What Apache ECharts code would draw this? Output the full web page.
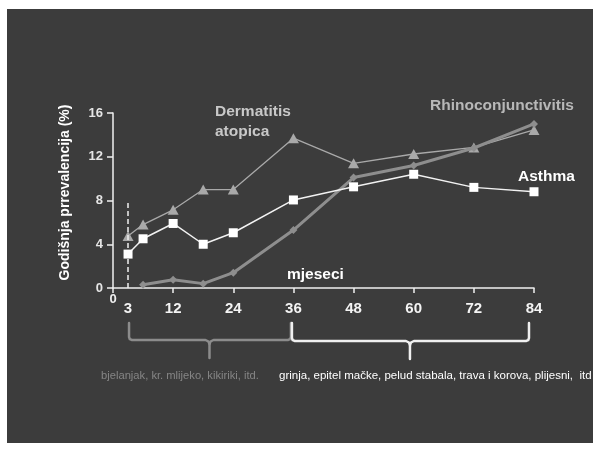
<!DOCTYPE html>
<html>
<head>
<meta charset="utf-8">
<script src="https://cdn.jsdelivr.net/npm/echarts@6/dist/echarts.min.js"></script>
<style>
  html, body { margin: 0; padding: 0; background: #ffffff; }
  #chart { width: 593px; height: 451px; }
</style>
</head>
<body>
<div id="chart"></div>
<script>
// Age in months at each survey point
const months = [3, 6, 12, 18, 24, 36, 48, 60, 72, 84];
const rhinoMonths = [6, 12, 18, 24, 36, 48, 60, 72, 84];

// Annual prevalence (%) per condition
const asthma = [3.1, 4.5, 5.9, 4.0, 5.05, 8.05, 9.25, 10.4, 9.2, 8.8];
const dermatitis = [4.75, 5.8, 7.15, 9.0, 9.0, 13.7, 11.4, 12.25, 12.85, 14.45];
const rhino = [0.3, 0.75, 0.4, 1.4, 5.3, 10.1, 11.2, 12.8, 15.0];

// Axis tick labels
const xTickLabels = [3, 12, 24, 36, 48, 60, 72, 84];
const yTicks = [0, 4, 8, 12, 16];

const pairs = (xs, ys) => xs.map((x, i) => [x, ys[i]]);

const FONT = '"Liberation Sans", Arial, sans-serif';
const chart = echarts.init(document.getElementById('chart'), null, { renderer: 'canvas' });

chart.setOption({
  backgroundColor: '#ffffff',
  animation: false,
  grid: { left: 113, right: 59, top: 113, bottom: 163, containLabel: false },
  xAxis: {
    type: 'value', min: 0, max: 84, interval: 12,
    axisLine: { show: true, lineStyle: { color: '#f0f0f0', width: 1.5 } },
    axisTick: { show: true, length: 5, lineStyle: { color: '#f0f0f0', width: 1.5 } },
    splitLine: { show: false },
    axisLabel: {
      customValues: xTickLabels,
      margin: 13,
      color: '#f4f4f4', fontFamily: FONT, fontWeight: 'bold', fontSize: 15
    }
  },
  yAxis: {
    type: 'value', min: yTicks[0], max: yTicks[yTicks.length - 1], interval: 4,
    axisLine: { show: true, lineStyle: { color: '#f0f0f0', width: 1.5 } },
    axisTick: { show: true, length: 6, lineStyle: { color: '#f0f0f0', width: 1.5 } },
    splitLine: { show: false },
    axisLabel: { margin: 10, color: '#e6e6e6', fontFamily: FONT, fontWeight: 'bold', fontSize: 13 }
  },
  series: [
    {
      name: 'Dermatitis atopica', type: 'line', data: pairs(months, dermatitis),
      symbol: 'triangle', symbolSize: [11, 10],
      lineStyle: { color: '#a9a9a9', width: 1.3 },
      itemStyle: { color: '#a9a9a9' }, z: 3
    },
    {
      name: 'Rhinoconjunctivitis', type: 'line', data: pairs(rhinoMonths, rhino),
      symbol: 'diamond', symbolSize: 8,
      lineStyle: { color: '#8e8e8e', width: 3 },
      itemStyle: { color: '#8e8e8e' }, z: 4
    },
    {
      name: 'Asthma', type: 'line', data: pairs(months, asthma),
      symbol: 'rect', symbolSize: 9,
      lineStyle: { color: '#f2f2f2', width: 1.5 },
      itemStyle: { color: '#ffffff' }, z: 5,
      markLine: {
        silent: true, symbol: 'none', label: { show: false },
        lineStyle: { color: '#f0f0f0', type: [5, 3], width: 1.5 },
        data: [[{ coord: [3, 0] }, { coord: [3, 8] }]]
      }
    }
  ]
});

// Overlay: background panel, series captions, axis titles and allergen braces
const px = m => chart.convertToPixel({ xAxisIndex: 0 }, m);
const py = v => chart.convertToPixel({ yAxisIndex: 0 }, v);

// Curly brace built from two polylines (left half, right half) meeting at the stem
function brace(x0, x1, xm, yTop, yBar, yStem, color) {
  const style = { stroke: color, lineWidth: 2.5, fill: null, lineJoin: 'round', lineCap: 'round' };
  return [
    {
      type: 'polyline', z: 1, silent: true, style,
      shape: {
        points: [
          [x0, yTop], [x0, yBar - 3], [x0 + 0.8, yBar - 0.8], [x0 + 3, yBar],
          [xm - 4, yBar], [xm - 1, yBar + 1.5], [xm, yBar + 4], [xm, yStem]
        ]
      }
    },
    {
      type: 'polyline', z: 1, silent: true, style,
      shape: {
        points: [
          [xm, yBar + 4], [xm + 1, yBar + 1.5], [xm + 4, yBar],
          [x1 - 3, yBar], [x1 - 0.8, yBar - 0.8], [x1, yBar - 3], [x1, yTop]
        ]
      }
    }
  ];
}

const bx0 = px(3), bMid = px(35.5), bx1 = px(83);
const axisY = py(0);

chart.setOption({
  graphic: [
    { type: 'rect', z: -10, silent: true, shape: { x: 7, y: 9, width: 586, height: 434 }, style: { fill: '#3c3c3c' } },
    {
      type: 'text', z: 5, x: px(0), y: axisY + 11,
      style: { text: '0', fill: '#f0f0f0', font: `bold 13px ${FONT}`, textAlign: 'center', textVerticalAlign: 'middle' }
    },
    {
      type: 'text', z: 5, x: 215, y: 101.5,
      style: { text: 'Dermatitis\natopica', fill: '#c8c8c8', font: `bold 15.5px ${FONT}`, lineHeight: 20, textAlign: 'left', textVerticalAlign: 'top' }
    },
    {
      type: 'text', z: 5, x: 430, y: 106,
      style: { text: 'Rhinoconjunctivitis', fill: '#b8b8b8', font: `bold 15.5px ${FONT}`, textAlign: 'left', textVerticalAlign: 'middle' }
    },
    {
      type: 'text', z: 5, x: 518, y: 177,
      style: { text: 'Asthma', fill: '#ffffff', font: `bold 15.5px ${FONT}`, textAlign: 'left', textVerticalAlign: 'middle' }
    },
    {
      type: 'text', z: 5, x: 287, y: 275,
      style: { text: 'mjeseci', fill: '#ffffff', font: `bold 15.5px ${FONT}`, textAlign: 'left', textVerticalAlign: 'middle' }
    },
    {
      type: 'text', z: 5, x: 65, y: 192.5, rotation: Math.PI / 2,
      style: { text: 'Godišnja prrevalencija (%)', fill: '#ffffff', font: `bold 14px ${FONT}`, textAlign: 'center', textVerticalAlign: 'middle' }
    },
    ...brace(bx0 + 1, bMid, (bx0 + bMid) / 2, 323, 340, 358, '#8c8c8c'),
    ...brace(bMid + 1, bx1, (bMid + bx1) / 2, 323, 341, 359, '#f0f0f0'),
    {
      type: 'text', z: 5, x: 101, y: 376,
      style: { text: 'bjelanjak, kr. mlijeko, kikiriki, itd.', fill: '#858585', font: `11.2px ${FONT}`, textAlign: 'left', textVerticalAlign: 'middle' }
    },
    {
      type: 'text', z: 5, x: 279, y: 376,
      style: { text: 'grinja, epitel mačke, pelud stabala, trava i korova, plijesni,  itd', fill: '#ffffff', font: `11.5px ${FONT}`, textAlign: 'left', textVerticalAlign: 'middle' }
    }
  ]
});
</script>
</body>
</html>
